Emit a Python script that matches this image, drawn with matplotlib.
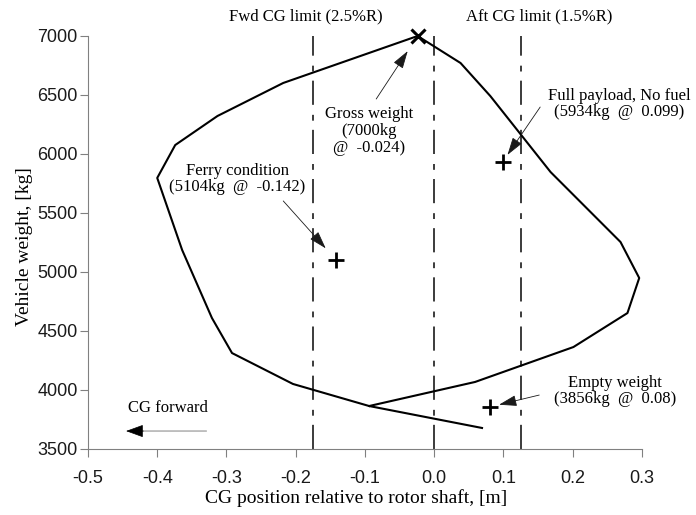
import matplotlib
matplotlib.use("Agg")
import matplotlib.pyplot as plt

plt.rcParams['axes.unicode_minus'] = False

# CG envelope as the vehicle is loaded (x: CG position [m], y: weight [kg])
cg_path = [0.069, -0.094, 0.059, 0.201, 0.279, 0.296, 0.269, 0.168, 0.081,
           0.038, -0.024, -0.218, -0.313, -0.374, -0.400, -0.364, -0.321,
           -0.292, -0.204, -0.094]
wt_path = [3678, 3864, 4068, 4364, 4652, 4949, 5254, 5847, 6491,
           6771, 7000, 6602, 6322, 6076, 5797, 5186, 4610,
           4313, 4051, 3864]

# CG limits
fwd_limit = -0.175
aft_limit = 0.125
shaft = 0.0

# loading cases
gross_cg, gross_wt = -0.024, 7000
ferry_cg, ferry_wt = -0.142, 5104
payload_cg, payload_wt = 0.099, 5934
empty_cg, empty_wt = 0.08, 3856

xticks = [-0.5, -0.4, -0.3, -0.2, -0.1, 0.0, 0.1, 0.2, 0.3]
yticks = [3500, 4000, 4500, 5000, 5500, 6000, 6500, 7000]

serif = 'Liberation Serif'
sans = 'Liberation Sans'

fig = plt.figure(figsize=(6.96, 5.15), dpi=100)
ax = fig.add_axes([0.1264, 0.1282, 0.796, 0.8019])

ax.plot(cg_path, wt_path, color='k', lw=1.5, zorder=3)

dashdot = (0, (14.5, 5.5, 3.5, 6))
for xv in (fwd_limit, shaft, aft_limit):
    ax.axvline(xv, color='0.1', lw=1.2, linestyle=dashdot, zorder=2)

ax.plot([gross_cg], [gross_wt], marker='x', color='k', ms=10, mew=2.2,
        clip_on=False, zorder=4)
ax.plot([ferry_cg, payload_cg, empty_cg], [ferry_wt, payload_wt, empty_wt],
        linestyle='none', marker='+', color='k', ms=12, mew=2, zorder=4)

ax.set_xlim(-0.5, 0.3)
ax.set_ylim(3500, 7000)
ax.set_xticks(xticks)
ax.set_xticklabels(['%.1f' % v for v in xticks])
ax.set_yticks(yticks)

for side in ('top', 'right'):
    ax.spines[side].set_visible(False)
for side in ('left', 'bottom'):
    ax.spines[side].set_color('0.5')
    ax.spines[side].set_linewidth(0.8)
ax.tick_params(axis='both', direction='out', length=6, width=0.8,
               color='0.5', labelsize=13, labelcolor='0.1')
ax.tick_params(axis='x', pad=9)
ax.tick_params(axis='y', pad=1.5)
for lab in ax.get_xticklabels() + ax.get_yticklabels():
    lab.set_fontfamily(sans)

ax.set_xlabel('CG position relative to rotor shaft, [m]', family=serif,
              fontsize=14)
ax.set_ylabel('Vehicle weight, [kg]', family=serif, fontsize=14)
ax.xaxis.set_label_coords(0.4846, -0.098)
ax.yaxis.set_label_coords(-0.1, 0.489)

# limit captions above the plot
ax.text(-0.186, 7136, 'Fwd CG limit (2.5%R)', family=serif, fontsize=12,
        ha='center', va='baseline')
ax.text(0.152, 7136, 'Aft CG limit (1.5%R)', family=serif, fontsize=12,
        ha='center', va='baseline')

txt = dict(family=serif, fontsize=12, ha='center', va='center',
           multialignment='center', linespacing=1.05)
arrow = dict(arrowstyle='-|>,head_length=0.55,head_width=0.17', color='0.1',
             lw=0.6, mutation_scale=20, shrinkA=0)

ax.text(-0.094, 6195, 'Gross weight\n(7000kg\n@  -0.024)', **txt)
ax.annotate('', xy=(gross_cg, gross_wt), xytext=(-0.0838, 6466),
            arrowprops=dict(arrow, shrinkB=13))

ax.text(-0.2845, 5788, 'Ferry condition\n(5104kg  @  -0.142)', **txt)
ax.annotate('', xy=(ferry_cg, ferry_wt), xytext=(-0.218, 5602),
            arrowprops=dict(arrow, shrinkB=11))

ax.text(0.267, 6424, 'Full payload, No fuel\n(5934kg  @  0.099)', **txt)
ax.annotate('', xy=(payload_cg, payload_wt), xytext=(0.153, 6398),
            arrowprops=dict(arrow, shrinkB=6))

ax.text(0.261, 3991, 'Empty weight\n(3856kg  @  0.08)', **txt)
ax.annotate('', xy=(empty_cg, empty_wt), xytext=(0.1516, 3957),
            arrowprops=dict(arrow, shrinkB=7))

# "CG forward" pointer: grey shaft, black head
ax.text(-0.384, 3847, 'CG forward', **txt)
ax.annotate('', xy=(-0.44, 3652), xytext=(-0.329, 3652),
            arrowprops=dict(arrowstyle='-', color='0.65', lw=1.0,
                            shrinkA=0, shrinkB=0))
ax.annotate('', xy=(-0.445, 3652), xytext=(-0.42, 3652),
            arrowprops=dict(arrowstyle='-|>,head_length=0.55,head_width=0.2',
                            color='k', lw=0.5, mutation_scale=20,
                            shrinkA=0, shrinkB=0))

fig.savefig('out.png', dpi=100)
